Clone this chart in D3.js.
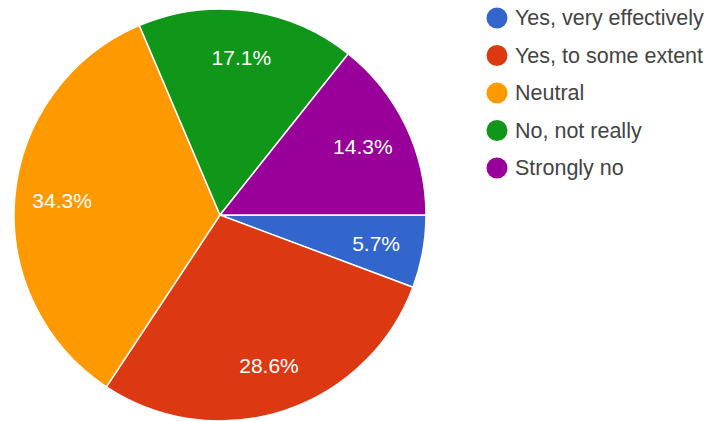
<!DOCTYPE html>
<html>
<head>
<meta charset="utf-8">
<script src="https://cdn.jsdelivr.net/npm/d3@7"></script>
<style>
  html, body { margin: 0; padding: 0; background: #fff; }
  svg { display: block; font-family: "Liberation Sans", Arial, sans-serif; }
</style>
</head>
<body>
<svg id="chart" width="721" height="421"></svg>
<script>
// Survey responses
const categories = ["Yes, very effectively", "Yes, to some extent", "Neutral", "No, not really", "Strongly no"];
const percentages = [5.7, 28.6, 34.3, 17.1, 14.3];
const colors = ["#3366cc", "#dc3912", "#ff9900", "#109618", "#990099"];

const svg = d3.select("#chart");
const cx = 220, cy = 215, radius = 206;

const data = categories.map((c, i) => ({ label: c, value: percentages[i], color: colors[i] }));

// Slices run clockwise starting from 3 o'clock
const pie = d3.pie()
  .value(d => d.value)
  .sort(null)
  .startAngle(Math.PI / 2)
  .endAngle(Math.PI / 2 + 2 * Math.PI);

const arc = d3.arc().innerRadius(0).outerRadius(radius);
const labelArc = d3.arc().innerRadius(radius * 0.77).outerRadius(radius * 0.77);

const g = svg.append("g").attr("transform", `translate(${cx},${cy})`);
const arcs = pie(data);

g.selectAll("path")
  .data(arcs)
  .join("path")
  .attr("d", arc)
  .attr("fill", d => d.data.color)
  .attr("stroke", "#ffffff")
  .attr("stroke-width", 1.5);

g.selectAll("text")
  .data(arcs)
  .join("text")
  .attr("transform", d => `translate(${labelArc.centroid(d)})`)
  .attr("text-anchor", "middle")
  .attr("dominant-baseline", "central")
  .attr("fill", "#ffffff")
  .attr("font-size", 21)
  .text(d => d.data.value.toFixed(1) + "%");

// Legend
const legend = svg.append("g").attr("transform", "translate(497,18)");
const rows = legend.selectAll("g")
  .data(data)
  .join("g")
  .attr("transform", (d, i) => `translate(0,${i * 37.5})`);

rows.append("circle")
  .attr("r", 10.5)
  .attr("fill", d => d.color);

rows.append("text")
  .attr("x", 18)
  .attr("dominant-baseline", "central")
  .attr("fill", "#444444")
  .attr("font-size", 21.5)
  .text(d => d.label);
</script>
</body>
</html>
